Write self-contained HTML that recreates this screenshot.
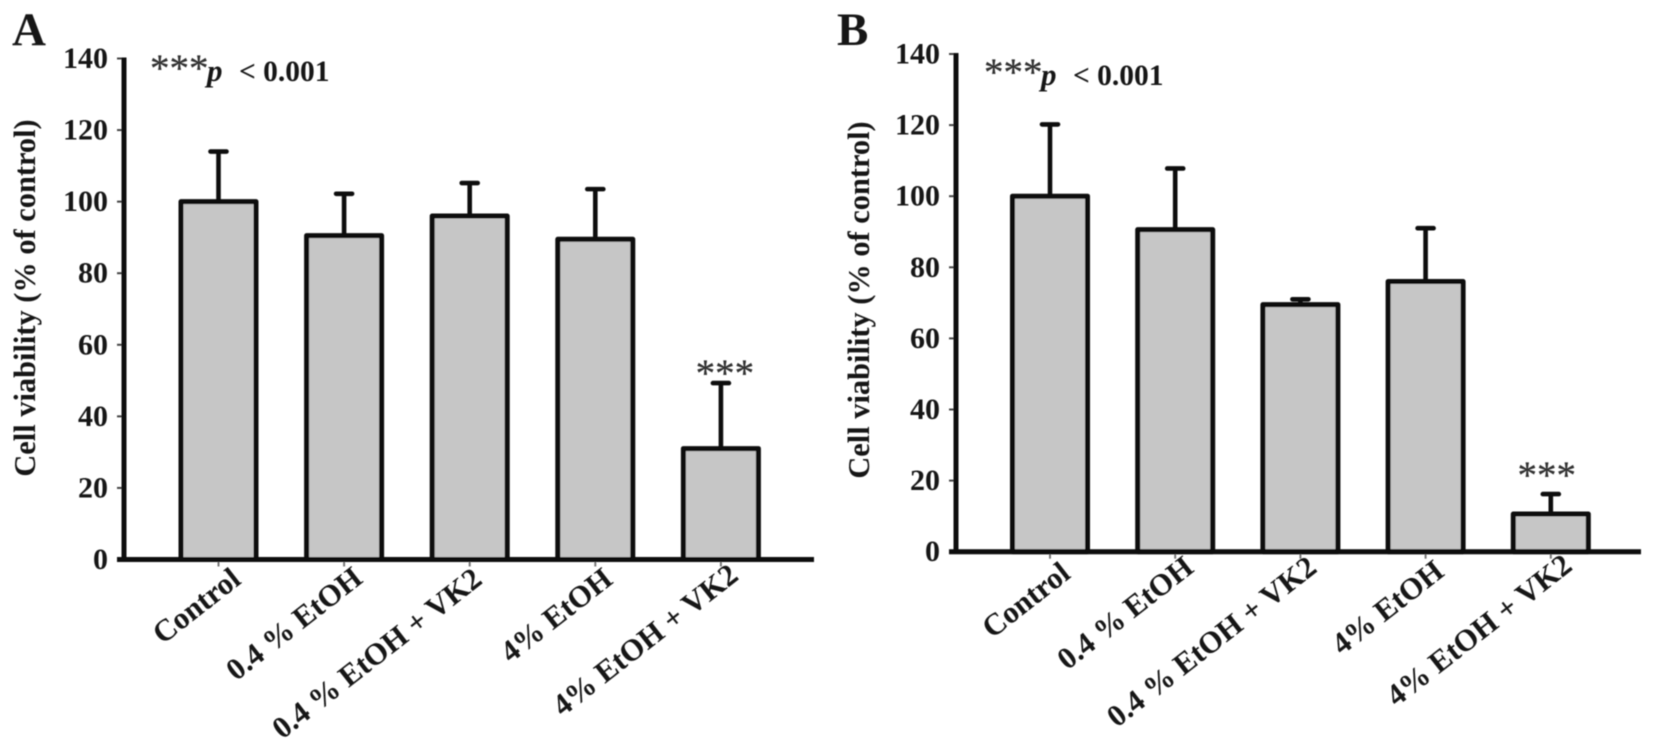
<!DOCTYPE html>
<html lang="en">
<head>
<meta charset="utf-8">
<title>Cell viability bar charts</title>
<style>
html,body{margin:0;padding:0;background:#fff;width:1654px;height:743px;overflow:hidden}
svg{display:block}
text{font-family:"Liberation Serif",serif;font-weight:bold;fill:#141414}
.star{font-weight:normal;fill:#333;stroke:#333;stroke-width:.3px;font-size:39px}
</style>
</head>
<body>
<svg id="figure" xmlns="http://www.w3.org/2000/svg" width="1654" height="743" viewBox="0 0 1654 743">
  <defs><filter id="soft" x="-2%" y="-2%" width="104%" height="104%"><feGaussianBlur stdDeviation="0.65"/></filter></defs>
  <rect width="1654" height="743" fill="#fff"/>
  <g id="root" filter="url(#soft)">
    <g id="panelA">
      <text x="12" y="45" font-size="47">A</text>
      <text transform="translate(35,298) rotate(-90)" text-anchor="middle" font-size="30.4">Cell viability (% of control)</text>
      <text x="150" y="81" font-size="29.5"><tspan class="star">***</tspan><tspan font-style="italic" font-size="31" x="207">p</tspan><tspan x="239">&lt; 0.001</tspan></text>
    </g>
    <g id="panelB">
      <text x="837" y="45" font-size="47">B</text>
      <text transform="translate(869,300) rotate(-90)" text-anchor="middle" font-size="30.4">Cell viability (% of control)</text>
      <text x="984" y="85" font-size="29.5"><tspan class="star">***</tspan><tspan font-style="italic" font-size="31" x="1041">p</tspan><tspan x="1073">&lt; 0.001</tspan></text>
    </g>
  </g>
</svg>
<script>
const categories = ["Control", "0.4 % EtOH", "0.4 % EtOH + VK2", "4% EtOH", "4% EtOH + VK2"];
const tickLabels = [0, 20, 40, 60, 80, 100, 120, 140];
const panelAValues = [100, 90.5, 96, 89.5, 31];
const panelAErrors = [114, 102.2, 105.2, 103.5, 49.3];
const panelBValues = [100, 90.6, 69.5, 76, 10.6];
const panelBErrors = [120.2, 107.8, 71, 91, 16.2];
const significantCategories = ["4% EtOH + VK2"];

const SVG_NS = "http://www.w3.org/2000/svg";

function make(parent, tag, attrs, content) {
  const node = document.createElementNS(SVG_NS, tag);
  for (const key in attrs) node.setAttribute(key, attrs[key]);
  if (content !== undefined) node.textContent = content;
  parent.appendChild(node);
  return node;
}

function drawPanel(parent, values, errors, frame) {
  const yScale = v => frame.y0 - (v / 140) * (frame.y0 - frame.y140);
  const xScale = i => frame.x0 + i * frame.step;
  const barHalf = 37.5;

  categories.forEach((cat, i) => {
    const cx = xScale(i);
    const top = yScale(values[i]);
    const errTop = yScale(errors[i]);

    const stem = make(parent, "line", {x1: cx, x2: cx, y1: top, y2: errTop, stroke: "#0d0d0d", "stroke-width": 4.6});
    
    

    const cap = make(parent, "line", {x1: cx - 8, x2: cx + 8, y1: errTop, y2: errTop, stroke: "#0d0d0d", "stroke-width": 4.6, "stroke-linecap": "round"});
    
    

    const bar = make(parent, "rect", {x: cx - barHalf, y: top, width: barHalf * 2, height: frame.y0 - top, fill: "#c6c6c6", stroke: "#0d0d0d", "stroke-width": 5, "stroke-linejoin": "round"});
    
    

    const tick = make(parent, "line", {x1: cx, x2: cx, y1: frame.y0, y2: frame.y0 + 7, stroke: "#777", "stroke-width": 2});
    
    

    const lx = cx + frame.labelDx[i];
    const ly = frame.y0 + frame.labelDy[i];
    const label = make(parent, "text", {transform: "translate(" + lx + "," + ly + ") rotate(-38)", "text-anchor": "end", "font-size": 30.6}, cat);
    
    

    if (significantCategories.includes(cat)) {
      const star = make(parent, "text", {x: cx + frame.starDx, y: errTop + frame.starGap, "text-anchor": "middle", class: "star"}, "***");
      
      
    }
  });

  tickLabels.forEach(t => {
    const y = yScale(t);
    const tick = make(parent, "line", {x1: frame.axisX - 7, x2: frame.axisX, y1: y, y2: y, stroke: "#444", "stroke-width": 2});
    
    

    const label = make(parent, "text", {x: frame.axisX - 16, y: y + 9.5, "text-anchor": "end", "font-size": 30}, String(t));
    
    
  });

  const yAxis = make(parent, "line", {x1: frame.axisX, x2: frame.axisX, y1: frame.y140 - 1, y2: frame.y0 + 2, stroke: "#0d0d0d", "stroke-width": 5});
  
  

  const xAxis = make(parent, "line", {x1: frame.axisX - 7, x2: frame.xEnd, y1: frame.y0, y2: frame.y0, stroke: "#0d0d0d", "stroke-width": 5});
  
  
}

drawPanel(document.getElementById("panelA"), panelAValues, panelAErrors,
  {axisX: 124, y0: 559.5, y140: 58.5, x0: 218.5, step: 125.6, xEnd: 814, starGap: 3, starDx: 4,
   labelDx: [24, 20, 14, 19, 19], labelDy: [23, 22, 23, 23, 19]});
drawPanel(document.getElementById("panelB"), panelBValues, panelBErrors,
  {axisX: 956, y0: 551.7, y140: 54, x0: 1050, step: 125.2, xEnd: 1641, starGap: -6, starDx: -4,
   labelDx: [22, 20, 18, 20, 23], labelDy: [25, 19, 19, 23, 17]});
</script>
</body>
</html>
